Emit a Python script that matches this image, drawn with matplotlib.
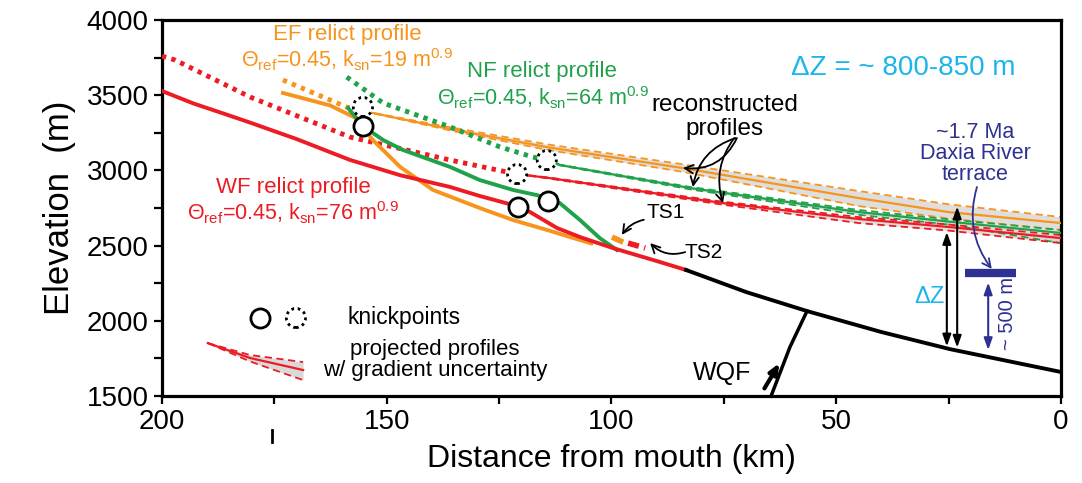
import matplotlib
matplotlib.use("Agg")
import matplotlib.pyplot as plt
import numpy as np

plt.rcParams['font.family'] = ['Liberation Sans', 'DejaVu Sans']
plt.rcParams['mathtext.fontset'] = 'custom'
plt.rcParams['mathtext.rm'] = 'Liberation Sans'
plt.rcParams['mathtext.it'] = 'Liberation Sans:italic'
plt.rcParams['mathtext.bf'] = 'Liberation Sans:bold'

ORANGE = '#f7941d'
GREEN = '#1fa24a'
RED = '#ed1c24'
CYAN = '#1cb5ea'
NAVY = '#2e3192'

# ---------------- data (distance km, elevation m) ----------------
# modern channel profiles
wf_dist = [200, 193, 186, 180.4, 170, 158.2, 147, 135.9, 129.3, 121.9, 118.1, 112.1, 107.0, 99.7, 89.2, 83.4]
wf_elev = [3528, 3445, 3375, 3318, 3208, 3070, 2968, 2890, 2830, 2770, 2723, 2617, 2557, 2484, 2391, 2338]
ef_dist = [173.1, 165.5, 162.6, 157.0, 153.1, 147.0, 139.7, 129.3, 121.9, 114.3, 109.2, 104.5]
ef_elev = [3515, 3455, 3432, 3350, 3202, 3023, 2870, 2750, 2670, 2604, 2557, 2515]
nf_dist = [158.6, 155.3, 150.8, 146.4, 135.9, 129.3, 121.9, 116.6, 111.5, 107.0, 102.6, 98.8]
nf_elev = [3415, 3295, 3202, 3136, 3023, 2936, 2870, 2836, 2783, 2670, 2550, 2471]
trunk_dist = [83.4, 70, 56.5, 40, 24.7, 0]
trunk_elev = [2338, 2191, 2065, 1926, 1812, 1660]

# upstream projections (dotted)
wf_proj_dist = [200, 197.1, 180.4, 158.2, 135.9, 123.2, 121.0]
wf_proj_elev = [3760, 3734, 3488, 3222, 3069, 2989, 2976]
ef_proj_dist = [173.1, 158.9, 155.3]
ef_proj_elev = [3601, 3421, 3395]
nf_proj_dist = [158.9, 150.8, 135.9, 124.8, 117.5, 114.4]
nf_proj_elev = [3621, 3448, 3289, 3156, 3089, 3069]

# reconstructed profiles (center, upper, lower)
ef_rec_dist = [155.3, 135, 114, 84, 45, 25, 0]
ef_rec_mid = [3395, 3270, 3153, 3015, 2816, 2723, 2650]
ef_rec_up = [3395, 3282, 3172, 3040, 2863, 2775, 2690]
ef_rec_lo = [3395, 3260, 3135, 2990, 2763, 2680, 2604]
nf_rec_dist = [114.4, 111.5, 82.5, 45, 25, 0]
nf_rec_mid = [3069, 3036, 2883, 2723, 2660, 2584]
nf_rec_up = [3069, 3038, 2890, 2737, 2675, 2604]
nf_rec_lo = [3069, 3034, 2874, 2705, 2640, 2517]
wf_rec_dist = [121.0, 113.7, 75.2, 45, 25, 0]
wf_rec_mid = [2976, 2949, 2783, 2677, 2624, 2550]
wf_rec_up = [2976, 2952, 2792, 2690, 2640, 2570]
wf_rec_lo = [2976, 2945, 2772, 2650, 2600, 2517]

# knickpoints
kp_solid_dist = [155.3, 120.8, 114.1]
kp_solid_elev = [3295, 2757, 2797]
kp_dot_dist = [155.3, 121.0, 114.4]
kp_dot_elev = [3422, 2976, 3069]

# terrace segments
ts1_dist = [99.9, 97.4]
ts1_elev = [2557, 2523]
ts2_dist = [96.3, 92.5]
ts2_elev = [2517, 2484]

# fault trace
wqf_dist = [64.5, 60.3, 56.5]
wqf_elev = [1500, 1826, 2065]

# Daxia River terrace
terrace_dist = [21.4, 10.0]
terrace_elev = [2318, 2318]

x_ticks = [200, 150, 100, 50, 0]
x_minor = [175, 125, 75, 25]
y_ticks = [1500, 2000, 2500, 3000, 3500, 4000]
y_minor = [1750, 2250, 2750, 3250, 3750]

# legend icon
leg_dist = [189.8, 180.4, 168.6]
leg_mid = [1852, 1753, 1673]
leg_up = [1852, 1773, 1726]
leg_lo = [1852, 1730, 1606]

# ---------------- figure ----------------
fig = plt.figure(figsize=(10.82, 4.83), dpi=100)
ax = fig.add_axes([0.1497, 0.18, 0.8309, 0.7786])
ax.set_xlim(200, 0)
ax.set_ylim(1500, 4000)

DOT = (0, (0.9, 1.1))
DASH = (0, (4, 2.5))

recs = [(ef_rec_dist, ef_rec_mid, ef_rec_up, ef_rec_lo, ORANGE),
        (nf_rec_dist, nf_rec_mid, nf_rec_up, nf_rec_lo, GREEN),
        (wf_rec_dist, wf_rec_mid, wf_rec_up, wf_rec_lo, RED)]
for d, m, u, l, c in recs:
    ax.fill_between(d, l, u, color='#d9d9d9', alpha=0.85, lw=0, zorder=1)
for d, m, u, l, c in recs:
    ax.plot(d, u, color=c, lw=1.3, ls=DASH, zorder=2)
    ax.plot(d, l, color=c, lw=1.3, ls=DASH, zorder=2)
    ax.plot(d, m, color=c, lw=1.6, zorder=3)

# projections (dotted)
ax.plot(wf_proj_dist, wf_proj_elev, color=RED, lw=3.5, ls=DOT, zorder=3)
ax.plot(ef_proj_dist, ef_proj_elev, color=ORANGE, lw=3.5, ls=DOT, zorder=3)
ax.plot(nf_proj_dist, nf_proj_elev, color=GREEN, lw=3.5, ls=DOT, zorder=3)

# modern profiles
ax.plot(ef_dist, ef_elev, color=ORANGE, lw=2.8, zorder=4, solid_joinstyle='round')
ax.plot(nf_dist, nf_elev, color=GREEN, lw=2.8, zorder=5, solid_joinstyle='round')
ax.plot(wf_dist, wf_elev, color=RED, lw=2.8, zorder=6, solid_joinstyle='round')
ax.plot(trunk_dist, trunk_elev, color='black', lw=2.8, zorder=6, solid_joinstyle='round')

# terrace segments
ax.plot(ts1_dist, ts1_elev, color=ORANGE, lw=4, zorder=6, solid_capstyle='butt')
ax.plot(ts2_dist, ts2_elev, color=RED, lw=4, ls=(0, (2, 1)), zorder=6)

# knickpoints
ax.scatter(kp_solid_dist, kp_solid_elev, s=190, facecolors='white', edgecolors='black',
           linewidths=2.0, zorder=8)
ax.scatter(kp_dot_dist, kp_dot_elev, s=190, facecolors='white', edgecolors='black',
           linewidths=2.0, linestyle=(0, (1, 1.3)), zorder=8)

# fault
ax.plot(wqf_dist, wqf_elev, color='black', lw=2.5, zorder=6, clip_on=False)
ax.annotate('', xy=(62.3, 1735), xytext=(66.3, 1535),
            arrowprops=dict(arrowstyle='-|>,head_length=0.6,head_width=0.25', color='black', lw=3))
ax.text(75.4, 1653, 'WQF', fontsize=18, ha='center', va='center')

# terrace
ax.plot(terrace_dist, terrace_elev, color=NAVY, lw=6, solid_capstyle='butt', zorder=7)

# delta Z arrows
dbl = '<|-|>,head_length=0.7,head_width=0.25'
ax.annotate('', xy=(25.4, 2590), xytext=(25.4, 1830),
            arrowprops=dict(arrowstyle=dbl, color='black', lw=1.5, shrinkA=0, shrinkB=0))
ax.annotate('', xy=(23.1, 2760), xytext=(23.1, 1822),
            arrowprops=dict(arrowstyle=dbl, color='black', lw=1.5, shrinkA=0, shrinkB=0))
ax.text(26.0, 2160, 'ΔZ', color=CYAN, fontsize=17, ha='right', va='center')
ax.annotate('', xy=(16.2, 2255), xytext=(16.2, 1806),
            arrowprops=dict(arrowstyle=dbl, color=NAVY, lw=1.5, shrinkA=0, shrinkB=0))
ax.text(11.8, 2050, '~ 500 m', color=NAVY, fontsize=14.5, rotation=90, ha='center', va='center')

# texts
ax.text(158.8, 3905, 'EF relict profile', color=ORANGE, fontsize=16, ha='center', va='center')
ax.text(158.8, 3735, r'Θ$_{\mathrm{ref}}$=0.45, k$_{\mathrm{sn}}$=19 m$^{0.9}$', color=ORANGE,
        fontsize=15.5, ha='center', va='center')
ax.text(115.5, 3655, 'NF relict profile', color=GREEN, fontsize=16, ha='center', va='center')
ax.text(115.2, 3483, r'Θ$_{\mathrm{ref}}$=0.45, k$_{\mathrm{sn}}$=64 m$^{0.9}$', color=GREEN,
        fontsize=15.5, ha='center', va='center')
ax.text(170.8, 2885, 'WF relict profile', color=RED, fontsize=16, ha='center', va='center')
ax.text(170.8, 2720, r'Θ$_{\mathrm{ref}}$=0.45, k$_{\mathrm{sn}}$=76 m$^{0.9}$', color=RED,
        fontsize=15.5, ha='center', va='center')
ax.text(35.2, 3681, 'ΔZ = ~ 800-850 m', color=CYAN, fontsize=20, ha='center', va='center')
ax.text(74.9, 3432, 'reconstructed', fontsize=17.5, ha='center', va='center')
ax.text(74.9, 3275, 'profiles', fontsize=17.5, ha='center', va='center')
ax.text(19.1, 3252, '~1.7 Ma', color=NAVY, fontsize=15.5, ha='center', va='center')
ax.text(19.1, 3110, 'Daxia River', color=NAVY, fontsize=15.5, ha='center', va='center')
ax.text(19.1, 2970, 'terrace', color=NAVY, fontsize=15.5, ha='center', va='center')
ax.text(88.0, 2717, 'TS1', fontsize=15, ha='center', va='center')
ax.text(79.4, 2457, 'TS2', fontsize=15, ha='center', va='center')

# annotation arrows
arr = dict(arrowstyle='->,head_length=0.6,head_width=0.3', color='black', lw=1.3, shrinkA=0, shrinkB=0)
ax.annotate('', xy=(84.1, 3016), xytext=(72.1, 3215),
            arrowprops=dict(connectionstyle='arc3,rad=-0.35', **arr))
ax.annotate('', xy=(81.9, 2890), xytext=(72.4, 3215),
            arrowprops=dict(connectionstyle='arc3,rad=0.3', **arr))
ax.annotate('', xy=(75.2, 2783), xytext=(72.7, 3215),
            arrowprops=dict(connectionstyle='arc3,rad=0.25', **arr))
ax.annotate('', xy=(97.7, 2571), xytext=(92.8, 2672),
            arrowprops=dict(connectionstyle='arc3,rad=0.2', **arr))
ax.annotate('', xy=(91.4, 2517), xytext=(83.6, 2457),
            arrowprops=dict(connectionstyle='arc3,rad=-0.3', **arr))
ax.annotate('', xy=(15.4, 2345), xytext=(18.7, 2890),
            arrowprops=dict(arrowstyle='->,head_length=0.6,head_width=0.3', color=NAVY, lw=1.3,
                            connectionstyle='arc3,rad=0.25', shrinkA=0, shrinkB=0))

# legend
ax.scatter([178.1], [2019], s=190, facecolors='white', edgecolors='black', linewidths=2.0, zorder=8)
ax.scatter([170.2], [2019], s=190, facecolors='white', edgecolors='black', linewidths=2.0,
           linestyle=(0, (1, 1.3)), zorder=8)
ax.text(158.8, 2025, 'knickpoints', fontsize=16.5, ha='left', va='center')
ax.fill_between(leg_dist, leg_lo, leg_up, color='#d9d9d9', lw=0)
ax.plot(leg_dist, leg_up, color=RED, lw=1.3, ls=DASH)
ax.plot(leg_dist, leg_lo, color=RED, lw=1.3, ls=DASH)
ax.plot(leg_dist, leg_mid, color=RED, lw=1.6)
ax.text(139.3, 1812, 'projected profiles', fontsize=16, ha='center', va='center')
ax.text(139.3, 1668, 'w/ gradient uncertainty', fontsize=16, ha='center', va='center')

# stray tick below axis
ax.plot([175.5, 175.5], [1274, 1194], color='black', lw=2, clip_on=False)

# axes styling
ax.set_xticks(x_ticks)
ax.set_xticks(x_minor, minor=True)
ax.set_yticks(y_ticks)
ax.set_yticks(y_minor, minor=True)
ax.tick_params(which='both', direction='out', width=1.6, length=6)
ax.tick_params(axis='both', which='major', labelsize=20)
for s in ax.spines.values():
    s.set_linewidth(2.3)
ax.set_xlabel('Distance from mouth (km)', fontsize=23, labelpad=6)
ax.set_ylabel('Elevation  (m)', fontsize=25, labelpad=8)

fig.savefig('out.png', dpi=100)
